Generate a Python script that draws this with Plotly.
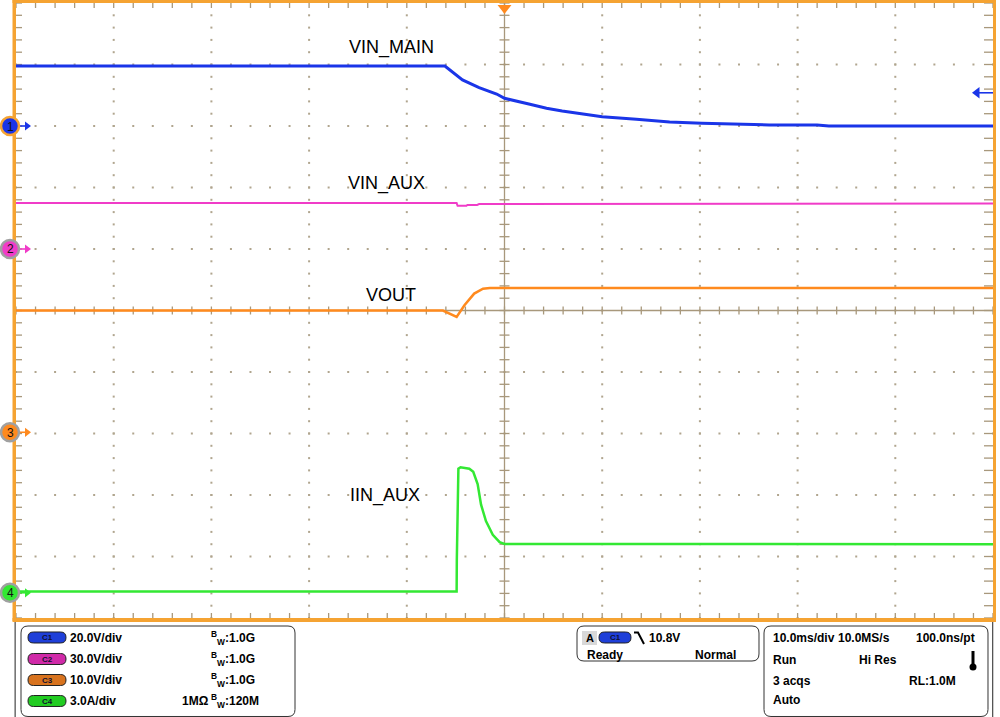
import numpy as np
import plotly.graph_objects as go

# ---------------- data ----------------
# time in ms (10 ms/div, trigger at 0)
vin_main_t = [-50, -6.1, -4.3, -2.6, -0.8, 0.0, 2.6, 4.3, 5.9, 7.5, 10.0, 13.5, 16.9, 20.2, 23.7, 27.1, 32.0, 33.2, 50]
vin_main_v = [19.5, 19.5, 15.0, 12.5, 10.4, 9.0, 7.1, 5.8, 4.9, 4.1, 3.0, 2.2, 1.3, 0.9, 0.65, 0.35, 0.3, 0.0, 0.0]

vin_aux_t = [-50, -4.9, -4.8, -3.9, -3.8, -2.8, -2.6, -1.9, -1.5, 50]
vin_aux_v = [22.4, 22.4, 21.1, 21.1, 21.5, 21.5, 21.9, 21.9, 22.2, 22.2]

vout_t = [-50, -6.3, -4.9, -4.1, -3.1, -2.2, -1.5, 50]
vout_v = [19.8, 19.8, 18.75, 20.65, 22.55, 23.35, 23.46, 23.46]

iin_aux_t = [-50, -4.9, -4.88, -4.72, -4.5, -3.6, -3.2, -2.75, -2.4, -1.9, -1.2, -0.5, 0.0, 50]
iin_aux_a = [0.06, 0.06, 1.6, 6.05, 6.12, 6.05, 5.9, 5.3, 4.3, 3.5, 2.83, 2.47, 2.38, 2.37]

labels = ["VIN_MAIN", "VIN_AUX", "VOUT", "IIN_AUX"]
ch_scale = [20.0, 30.0, 10.0, 3.0]          # units / div
ch_offset = [3.0, 1.0, -1.98, -4.59]        # ground marker position in divisions
ch_units = ["V", "V", "V", "A"]
ch_colors = ["#1a35e8", "#f03cc8", "#ff8a1e", "#33e833"]
trig_level = 10.8

# ---------------- geometry helpers ----------------
X0, X1, Y0, Y1 = 16, 993, 3, 618
W, H = 1000, 717
def px2x(px): return -50 + (px - X0) * 100.0 / (X1 - X0)
def py2y(py): return 5 - (py - Y0) * 10.0 / (Y1 - Y0)
def ppx(px): return (px - X0) / (X1 - X0)
def ppy(py): return (Y1 - py) / (Y1 - Y0)
MSPX = 100.0 / (X1 - X0)
DVPX = 10.0 / (Y1 - Y0)

fig = go.Figure()
GRAT = "#b0a58e"
CEN = "#a8987c"

minor_x = np.arange(-50, 50.001, 2)
minor_y = np.arange(-5, 5.001, 0.2)
major_x = [v for v in range(-40, 41, 10) if v != 0]
major_y = [v for v in range(-4, 5) if v != 0]

dx_, dy_ = [], []
for mx in major_x:
    for my in minor_y:
        dx_.append(mx); dy_.append(my)
for my in major_y:
    for mx in minor_x:
        dx_.append(mx); dy_.append(my)
fig.add_trace(go.Scatter(x=dx_, y=dy_, mode="markers", hoverinfo="skip",
                         marker=dict(size=2, color=GRAT, symbol="square", line=dict(width=0)),
                         showlegend=False))

tx, ty = [], []
for my in minor_y:
    tx += [-5 * MSPX, 5 * MSPX, None]; ty += [my, my, None]
    tx += [-50, -50 + 6 * MSPX, None]; ty += [my, my, None]
    tx += [50, 50 - 9 * MSPX, None]; ty += [my, my, None]
for mx in minor_x:
    tx += [mx, mx, None]; ty += [-4 * DVPX, 4 * DVPX, None]
    tx += [mx, mx, None]; ty += [5, 5 - 5 * DVPX, None]
    tx += [mx, mx, None]; ty += [-5, -5 + 5 * DVPX, None]
tx += [0, 0, None, -50, 50, None]; ty += [-5, 5, None, 0, 0, None]
fig.add_trace(go.Scatter(x=tx, y=ty, mode="lines", hoverinfo="skip",
                         line=dict(color=CEN, width=1.3), showlegend=False))

# ---------------- waveforms ----------------
series = [(vin_main_t, vin_main_v), (vin_aux_t, vin_aux_v), (vout_t, vout_v), (iin_aux_t, iin_aux_a)]
widths = [3, 2, 2.5, 2.5]
for i, (t, v) in enumerate(series):
    ydiv = [val / ch_scale[i] + ch_offset[i] for val in v]
    fig.add_trace(go.Scatter(x=t, y=ydiv, mode="lines", name=labels[i],
                             line=dict(color=ch_colors[i], width=widths[i]),
                             showlegend=False))

# channel ground arrows (inside plot)
for i in range(4):
    fig.add_trace(go.Scatter(x=[-50, px2x(26)], y=[ch_offset[i]] * 2, mode="lines",
                             line=dict(color=ch_colors[i], width=1.6), hoverinfo="skip", showlegend=False))
    fig.add_trace(go.Scatter(x=[px2x(27)], y=[ch_offset[i]], mode="markers",
                             marker=dict(symbol="triangle-right", size=8, color=ch_colors[i], line=dict(width=0)),
                             hoverinfo="skip", showlegend=False))
# trigger level arrow (right)
trig_y = trig_level / ch_scale[0] + ch_offset[0]
fig.add_trace(go.Scatter(x=[px2x(978), 50], y=[trig_y] * 2, mode="lines",
                         line=dict(color=ch_colors[0], width=1.6), hoverinfo="skip", showlegend=False))
fig.add_trace(go.Scatter(x=[px2x(977)], y=[trig_y], mode="markers",
                         marker=dict(symbol="triangle-left", size=10, color=ch_colors[0], line=dict(width=0)),
                         hoverinfo="skip", showlegend=False))

# trigger position marker
fig.add_trace(go.Scatter(x=[0], y=[py2y(8)], mode="markers", cliponaxis=False,
                         marker=dict(symbol="triangle-down", size=12, color="#ff8a1e"),
                         showlegend=False, hoverinfo="skip"))

annotations = []
lab_pos = [(391, 47), (386, 183), (391, 295), (385, 495)]
for lab, (px, py) in zip(labels, lab_pos):
    annotations.append(dict(x=px2x(px), y=py2y(py), xref="x", yref="y", text=lab,
                            showarrow=False, font=dict(size=18, color="black", family="Liberation Sans")))

# ---------------- frame, markers, info panel ----------------
shapes = []
ORANGE = "#f5a332"
def rect_px(x0, y0, x1, y1, color, layer="above"):
    shapes.append(dict(type="rect", xref="paper", yref="paper", x0=ppx(x0), x1=ppx(x1),
                       y0=ppy(y1), y1=ppy(y0), fillcolor=color, line=dict(width=0), layer=layer))

def rrect_path(x0, y0, x1, y1, r):
    pts = [("M", x0 + r, y0), ("L", x1 - r, y0), ("Q", x1, y0, x1, y0 + r), ("L", x1, y1 - r),
           ("Q", x1, y1, x1 - r, y1), ("L", x0 + r, y1), ("Q", x0, y1, x0, y1 - r),
           ("L", x0, y0 + r), ("Q", x0, y0, x0 + r, y0)]
    s = ""
    for p in pts:
        if p[0] == "Q":
            s += "Q%.5f,%.5f %.5f,%.5f " % (ppx(p[1]), ppy(p[2]), ppx(p[3]), ppy(p[4]))
        else:
            s += "%s%.5f,%.5f " % (p[0], ppx(p[1]), ppy(p[2]))
    return s + "Z"

def rrect(x0, y0, x1, y1, r, line="#333333", fill="rgba(0,0,0,0)", lw=1):
    shapes.append(dict(type="path", xref="paper", yref="paper", path=rrect_path(x0, y0, x1, y1, r),
                       line=dict(color=line, width=lw), fillcolor=fill, layer="above"))

def ptext(px, py, txt, size=12, anchor="left", bold=True, color="black"):
    annotations.append(dict(x=ppx(px), y=ppy(py), xref="paper", yref="paper",
                            text=("<b>%s</b>" % txt) if bold else txt, showarrow=False,
                            xanchor=anchor, yanchor="middle",
                            font=dict(size=size, color=color, family="Liberation Sans")))

# frame
rect_px(12.5, 0, 16, 621, ORANGE)
rect_px(12.5, 0, 996, 3, ORANGE)
rect_px(993, 0, 996, 621, ORANGE)
rect_px(12.5, 618, 996, 622, ORANGE)
rect_px(14.5, 622, 15.8, 717, "#555555")
rect_px(992, 622, 993.3, 717, "#555555")

# channel ground circles
ring = [ORANGE, "#a0a0a0", "#a0a0a0", "#a0a0a0"]
for i in range(4):
    cy = Y1 - (ch_offset[i] + 5) / 10.0 * (Y1 - Y0)
    shapes.append(dict(type="circle", xref="paper", yref="paper",
                       x0=ppx(1), x1=ppx(19), y0=ppy(cy + 9), y1=ppy(cy - 9),
                       fillcolor=ch_colors[i], line=dict(color=ring[i], width=2.5), layer="above"))
    ptext(10, cy + 0.5, str(i + 1), size=12, anchor="center", bold=False, color="#111111")

rrect(21, 626, 295, 716.5, 7)
rrect(577, 626, 759, 661, 7)
rrect(764, 626, 988, 716.5, 7)

badge_fill = ["#1f3fd8", "#d02aa8", "#d8731e", "#22cc22"]
rows = [637.5, 659, 680, 701]

for i in range(4):
    rrect(28, rows[i] - 5.5, 66, rows[i] + 5.5, 5.5, line="#222222", fill=badge_fill[i], lw=1)
    ptext(47, rows[i], "C%d" % (i + 1), size=8, anchor="center", color="#101030")
    ptext(68, rows[i], "%.1f%s/div" % (ch_scale[i], ch_units[i]))
bw = ["1.0G", "1.0G", "1.0G", "120M"]
for i in range(4):
    ptext(209, rows[i], "<sup>B</sup><sub>W</sub>:%s" % bw[i])
ptext(180, rows[3], "1MΩ")

# trigger box
rect_px(582, 631, 597, 645, "#d8d8d8")
ptext(589.5, 638, "A", size=11, anchor="center")
rrect(599, 632, 631, 643, 5.5, line="#222222", fill=badge_fill[0])
ptext(615, 637.5, "C1", size=8, anchor="center", color="#101030")
shapes.append(dict(type="path", xref="paper", yref="paper",
                   path="M%.5f,%.5f L%.5f,%.5f L%.5f,%.5f" % (ppx(634), ppy(632.5), ppx(638), ppy(632.5),
                                                              ppx(644), ppy(644)),
                   line=dict(color="black", width=2), layer="above"))
ptext(647, 637.5, "%.1fV" % trig_level)
ptext(585, 655, "Ready")
ptext(738, 655, "Normal", anchor="right")

# timebase box
ptext(771, 638, "10.0ms/div")
ptext(836, 638, "10.0MS/s")
ptext(977, 638, "100.0ns/pt", anchor="right")
ptext(771, 660, "Run")
ptext(857, 660, "Hi Res")
ptext(771, 681, "3 acqs")
ptext(907, 681, "RL:1.0M")
ptext(771, 700, "Auto")
rect_px(971.5, 651, 974.5, 665, "black")
shapes.append(dict(type="circle", xref="paper", yref="paper", x0=ppx(969.5), x1=ppx(976.5),
                   y0=ppy(670.5), y1=ppy(663.5), fillcolor="black", line=dict(width=0), layer="above"))

fig.update_layout(
    width=W, height=H,
    margin=dict(l=X0, r=W - X1, t=Y0, b=H - Y1, pad=0),
    paper_bgcolor="white", plot_bgcolor="white",
    xaxis=dict(range=[-50, 50], showgrid=False, zeroline=False, showticklabels=False, ticks="",
               fixedrange=True),
    yaxis=dict(range=[-5, 5], showgrid=False, zeroline=False, showticklabels=False, ticks="",
               fixedrange=True),
    shapes=shapes, annotations=annotations, showlegend=False,
    font=dict(family="Liberation Sans"),
)
fig.write_html("out.html", config={"displayModeBar": False},
               post_script="document.body.style.margin='0';document.body.style.overflow='hidden';")
